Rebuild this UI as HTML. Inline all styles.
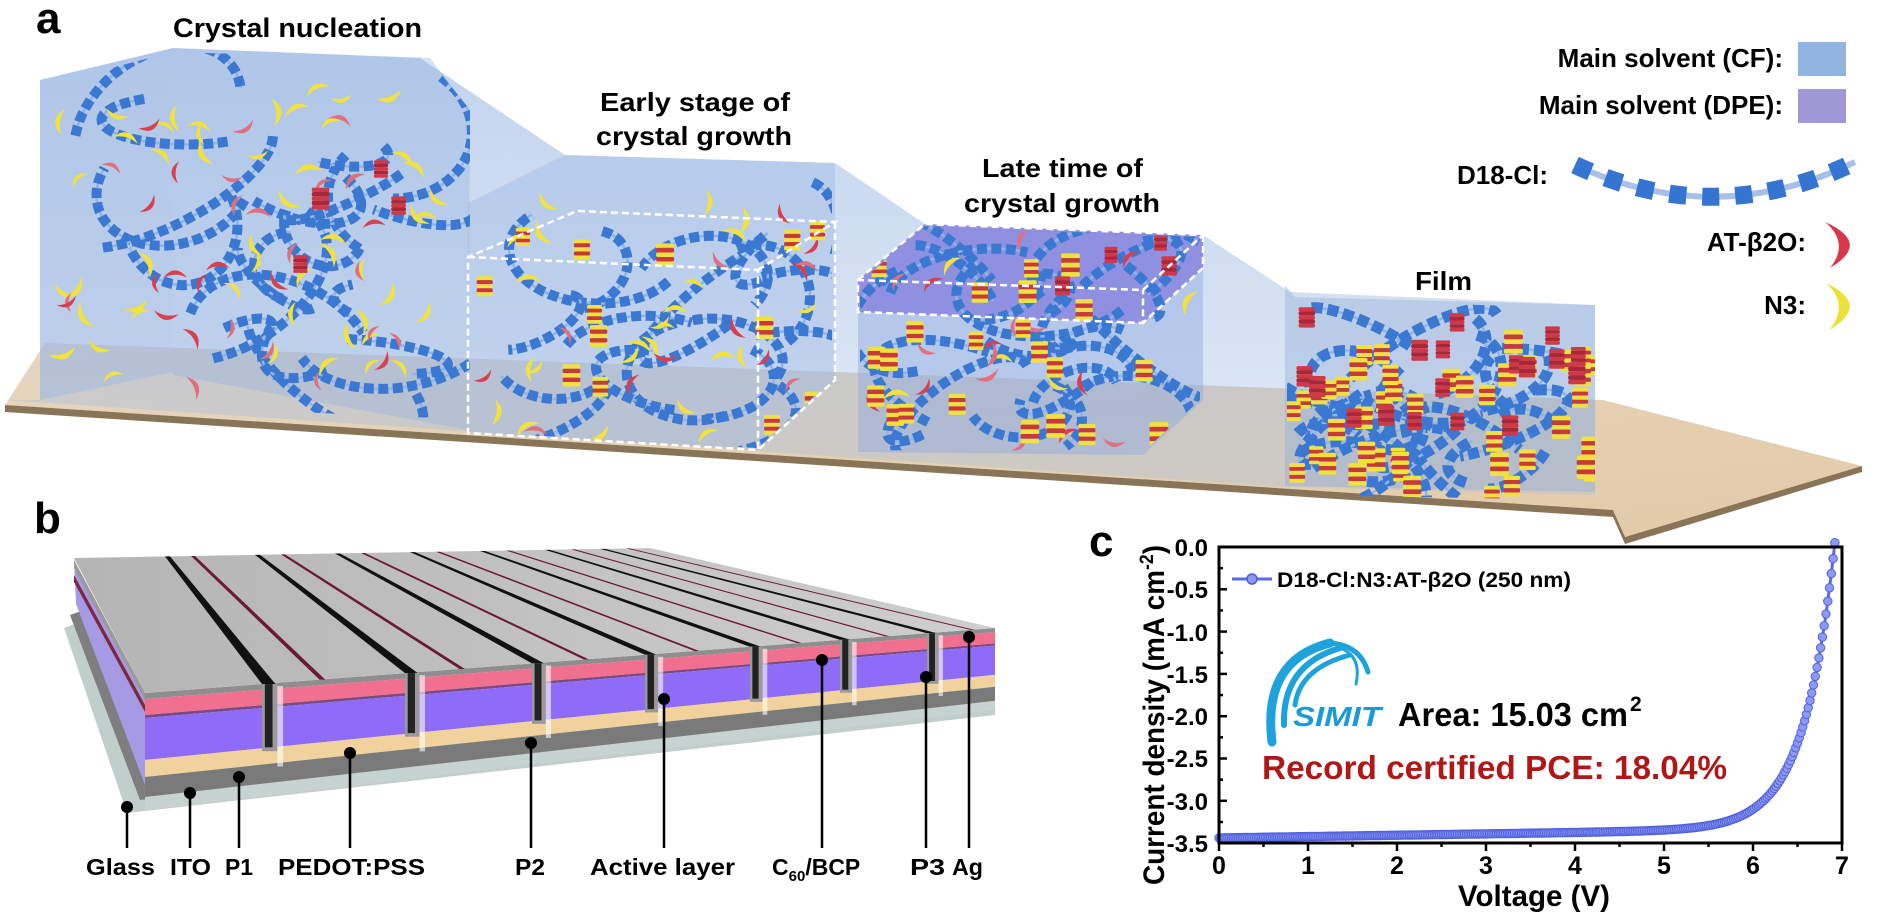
<!DOCTYPE html>
<html><head><meta charset="utf-8">
<style>
html,body{margin:0;padding:0;background:#fff;}
svg{display:block;}
text{font-family:"Liberation Sans",Arial,sans-serif;font-weight:bold;fill:#000;}
</style></head>
<body>
<svg id="s" width="1894" height="913" viewBox="0 0 1894 913" xmlns="http://www.w3.org/2000/svg">
<defs>
<linearGradient id="fl" x1="0" y1="0" x2="1" y2="1"><stop offset="0" stop-color="#e6d6c0"/><stop offset="1" stop-color="#e2cba8"/></linearGradient>
<linearGradient id="topg" x1="0" y1="0" x2="1" y2="0"><stop offset="0" stop-color="#b4b4b4"/><stop offset="1" stop-color="#cfcfcf"/></linearGradient>
<linearGradient id="bw" x1="0" y1="0" x2="0" y2="1"><stop offset="0" stop-color="#8fb0e0" stop-opacity="0.55"/><stop offset="1" stop-color="#a8c0e4" stop-opacity="0.35"/></linearGradient>
<clipPath id="c1"><polygon points="45,85 173,52 430,60 470,110 470,420 45,400"/></clipPath>
<clipPath id="c2"><polygon points="470,205 565,158 832,166 832,380 758,448 470,432"/></clipPath>
<clipPath id="c3"><polygon points="860,282 925,226 1200,237 1200,400 1143,452 860,450"/></clipPath>
<clipPath id="c4"><polygon points="1287,300 1595,308 1595,500 1287,495"/></clipPath>
</defs>

<polygon points="5,405 45,343 1603,400 1862,466 1625,537 1613,510" fill="url(#fl)"/>
<polygon points="5,405 1613,510 1613,517 5,412" fill="#8a7458"/>
<polygon points="1625,537 1862,466 1862,472 1625,544" fill="#8a7458"/>
<polygon points="1613,510 1625,537 1625,544 1613,517" fill="#8a7458"/>

<polygon points="40,80 173,48 420,58 565,155 835,163 925,224 1203,235 1290,292 1595,305 1595,495 1285,487 5,400 40,400" fill="url(#bw)"/>
<polygon points="40,80 173,48 173,372 40,400" fill="#9cb6e0" fill-opacity="0.45"/>
<polygon points="173,48 430,58 470,110 468,430 173,375" fill="#8fb0e0" fill-opacity="0.35"/>
<polygon points="468,203 565,155 835,163 835,380 758,450 468,433" fill="#9ab7e4" fill-opacity="0.4"/>
<polygon points="858,280 925,224 1203,235 1203,400 1143,455 858,452" fill="#8fa8e0" fill-opacity="0.45"/>
<polygon points="858,280 925,224 1203,235 1203,268 1143,323 858,312" fill="#6c5ad8" fill-opacity="0.5"/>
<polygon points="1285,285 1295,297 1595,305 1595,492 1285,486" fill="#90acd8" fill-opacity="0.4"/>

<g id="m1" clip-path="url(#c1)"></g>
<g id="m2" clip-path="url(#c2)"></g>
<g id="m3" clip-path="url(#c3)"></g>
<g id="m4" clip-path="url(#c4)"></g>

<g fill="none" stroke="#fff" stroke-width="2.5" stroke-dasharray="7 4">
<polyline points="468,257 758,270 758,450 468,433 468,257 577,211 835,222 758,270"/>
<polyline points="835,222 835,380 758,450"/>
<polyline points="858,280 925,224 1203,235 1143,290 858,280 858,312 1143,323 1143,290"/>
<polyline points="1203,235 1203,268 1143,323"/>
</g>

<text x="36" y="33" font-size="44">a</text>
<text x="173" y="37" font-size="27" textLength="249" lengthAdjust="spacingAndGlyphs">Crystal nucleation</text>
<text x="600" y="111" font-size="26" textLength="190" lengthAdjust="spacingAndGlyphs">Early stage of</text>
<text x="596" y="145" font-size="26" textLength="196" lengthAdjust="spacingAndGlyphs">crystal growth</text>
<text x="982" y="177" font-size="26" textLength="161" lengthAdjust="spacingAndGlyphs">Late time of</text>
<text x="964" y="212" font-size="26" textLength="196" lengthAdjust="spacingAndGlyphs">crystal growth</text>
<text x="1415" y="290" font-size="26" textLength="57" lengthAdjust="spacingAndGlyphs">Film</text>

<text x="1783" y="67" font-size="26" text-anchor="end">Main solvent (CF):</text>
<rect x="1798" y="42" width="48" height="34" fill="#92b4e3"/>
<text x="1783" y="114" font-size="26" text-anchor="end">Main solvent (DPE):</text>
<rect x="1798" y="89" width="48" height="34" fill="#9f97d6"/>
<text x="1457" y="184" font-size="26">D18-Cl:</text>
<path d="M1575,165 Q1715,230 1855,162" fill="none" stroke="#a8c0e8" stroke-width="6"/>
<path d="M1575,165 Q1715,230 1855,162" fill="none" stroke="#3574d0" stroke-width="18" stroke-dasharray="17 16"/>
<text x="1806" y="251" font-size="26" text-anchor="end">AT-β2O:</text>
<path d="M1825,222 Q1872,243 1830,268 Q1850,243 1825,222Z" fill="#d8384a"/>
<text x="1806" y="314" font-size="26" text-anchor="end">N3:</text>
<path d="M1826,283 Q1872,305 1829,330 Q1850,305 1826,283Z" fill="#ece03a"/>

<text x="34" y="533" font-size="44">b</text>
<g id="dev"></g>
<g stroke="#000" stroke-width="2.5">
<line x1="127" y1="807" x2="127" y2="848"/><line x1="190" y1="793" x2="190" y2="848"/>
<line x1="239" y1="777" x2="239" y2="848"/><line x1="350" y1="753" x2="350" y2="848"/>
<line x1="531" y1="743" x2="531" y2="848"/><line x1="664" y1="699" x2="664" y2="848"/>
<line x1="822" y1="660" x2="822" y2="848"/><line x1="926" y1="677" x2="926" y2="848"/>
<line x1="969" y1="637" x2="969" y2="848"/>
</g>
<g fill="#000">
<circle cx="127" cy="807" r="6"/><circle cx="190" cy="793" r="6"/><circle cx="239" cy="777" r="6"/>
<circle cx="350" cy="753" r="6"/><circle cx="531" cy="743" r="6"/><circle cx="664" cy="699" r="6"/>
<circle cx="822" cy="660" r="6"/><circle cx="926" cy="677" r="6"/><circle cx="969" cy="637" r="6"/>
</g>
<g font-size="23">
<text x="86" y="875" textLength="69" lengthAdjust="spacingAndGlyphs">Glass</text>
<text x="170" y="875" textLength="41" lengthAdjust="spacingAndGlyphs">ITO</text>
<text x="225" y="875" textLength="28" lengthAdjust="spacingAndGlyphs">P1</text>
<text x="278" y="875" textLength="147" lengthAdjust="spacingAndGlyphs">PEDOT:PSS</text>
<text x="515" y="875" textLength="30" lengthAdjust="spacingAndGlyphs">P2</text>
<text x="590" y="875" textLength="145" lengthAdjust="spacingAndGlyphs">Active layer</text>
<text x="772" y="875">C<tspan font-size="15" dy="6">60</tspan><tspan dy="-6">/BCP</tspan></text>
<text x="910" y="875" textLength="35" lengthAdjust="spacingAndGlyphs">P3</text>
<text x="952" y="875" textLength="31" lengthAdjust="spacingAndGlyphs">Ag</text>
</g>

<text x="1089" y="556" font-size="44">c</text>
<g id="curve"></g>
<rect x="1219" y="547" width="623" height="296" fill="none" stroke="#000" stroke-width="3"/>
<g id="ticks" stroke="#000" stroke-width="2.5"></g>
<g font-size="24" text-anchor="end">
<text x="1208" y="556">0.0</text><text x="1208" y="598">-0.5</text><text x="1208" y="641">-1.0</text>
<text x="1208" y="683">-1.5</text><text x="1208" y="725">-2.0</text><text x="1208" y="767">-2.5</text>
<text x="1208" y="810">-3.0</text><text x="1208" y="852">-3.5</text>
</g>
<g font-size="25" text-anchor="middle">
<text x="1219" y="874">0</text><text x="1308" y="874">1</text><text x="1397" y="874">2</text><text x="1486" y="874">3</text>
<text x="1575" y="874">4</text><text x="1664" y="874">5</text><text x="1753" y="874">6</text><text x="1842" y="874">7</text>
</g>
<text x="1534" y="906" font-size="30" text-anchor="middle" textLength="152" lengthAdjust="spacingAndGlyphs">Voltage (V)</text>
<text transform="translate(1164,715) rotate(-90)" font-size="30" text-anchor="middle" textLength="340" lengthAdjust="spacingAndGlyphs">Current density (mA cm<tspan font-size="19" dy="-11">-2</tspan><tspan dy="11">)</tspan></text>
<line x1="1232" y1="579" x2="1272" y2="579" stroke="#5a6ae8" stroke-width="3"/>
<circle cx="1252" cy="579" r="5" fill="#8d9af5" stroke="#4a5ad8" stroke-width="1.5"/>
<text x="1277" y="587" font-size="21" textLength="294" lengthAdjust="spacingAndGlyphs">D18-Cl:N3:AT-β2O (250 nm)</text>
<g fill="none" stroke="#1ea2dc" stroke-linecap="round">
<path d="M1272,742 Q1262,660 1330,643" stroke-width="9"/>
<path d="M1284,725 Q1282,665 1340,648" stroke-width="6"/>
<path d="M1295,705 Q1300,668 1350,655" stroke-width="5"/>
<path d="M1330,643 Q1360,645 1368,672" stroke-width="5"/>
<path d="M1340,648 Q1362,656 1356,684" stroke-width="3"/>
</g>
<text x="1293" y="726" font-size="28" font-style="italic" style="fill:#1a9ad6" textLength="88" lengthAdjust="spacingAndGlyphs">SIMIT</text>
<text x="1398" y="726" font-size="33" textLength="230" lengthAdjust="spacingAndGlyphs">Area: 15.03 cm</text>
<text x="1630" y="711" font-size="21">2</text>
<text x="1262" y="779" font-size="33" style="fill:#b01818" textLength="465" lengthAdjust="spacingAndGlyphs">Record certified PCE: 18.04%</text>
</svg>
<script>
var NS="http://www.w3.org/2000/svg";
function el(p,t,a){var e=document.createElementNS(NS,t);for(var k in a)e.setAttribute(k,a[k]);p.appendChild(e);return e;}
var seed=12345;function R(){seed|=0;seed=seed+0x6D2B79F5|0;var t=Math.imul(seed^seed>>>15,1|seed);t=t+Math.imul(t^t>>>7,61|t)^t;return((t^t>>>14)>>>0)/4294967296;}
function rr(a,b){return a+R()*(b-a);}
var mol;
function chain(x0,x1,y0,y1,w){
 var cx=rr(x0+30,x1-30),cy=rr(y0+30,y1-20),rx=rr(35,(x1-x0)/3.2),ry=rr(15,(y1-y0)/4),rot=rr(-0.7,0.7),a0=rr(0,6.28),len=rr(1.5,3.5);
 var d="";for(var i=0;i<=30;i++){var a=a0+len*i/30;var px=rx*Math.cos(a),py=ry*Math.sin(a);var X=cx+px*Math.cos(rot)-py*Math.sin(rot),Y=cy+px*Math.sin(rot)+py*Math.cos(rot);d+=(i?"L":"M")+X.toFixed(1)+","+Y.toFixed(1);}
 el(mol,'path',{d:d,fill:'none',stroke:'#8fb4ea',"stroke-width":2.5});
 el(mol,'path',{d:d,fill:'none',stroke:'#3a78d2',"stroke-width":w,"stroke-dasharray":(w)+" "+(w*0.45)});
}
function cres(x,y,c,s){el(mol,'path',{d:"M-8,0 Q0,-10 8,0 Q0,-4 -8,0Z",fill:c,transform:"translate("+x.toFixed(1)+","+y.toFixed(1)+") rotate("+rr(0,360).toFixed(0)+") scale("+s.toFixed(2)+")"});}
function stack(x,y,s,red){var g=el(mol,'g',{transform:"translate("+x.toFixed(1)+","+y.toFixed(1)+") scale("+s.toFixed(2)+")"});
 var cols=red?['#d03a48','#a8283a','#d03a48','#a8283a','#d03a48']:['#f0e040','#c83a3a','#f0e040','#c83a3a','#f0e040'];
 for(var i=0;i<5;i++)el(g,'rect',{x:-8,y:-10+i*4,width:16,height:4,fill:cols[i],rx:1.5});}
function box(id,x0,x1,y0,y1,nc,w,ny,nr,ns,nrs){
 mol=document.getElementById(id);
 for(var i=0;i<nc;i++)chain(x0,x1,y0,y1,w);
 for(i=0;i<ny;i++)cres(rr(x0,x1),rr(y0,y1),'#f2e23e',rr(1.3,1.8));
 for(i=0;i<nr;i++)cres(rr(x0,x1),rr(y0,y1),R()<0.5?'#d8404f':'#e07080',rr(1.2,1.6));
 for(i=0;i<ns;i++)stack(rr(x0,x1),rr(y0+30,y1),rr(0.9,1.2),false);
 for(i=0;i<nrs;i++)stack(rr(x0,x1),rr(y0,y1-60),rr(0.8,1.1),true);}
box('m1',60,440,90,390,22,10,50,30,0,4);
box('m2',480,830,200,440,18,10,24,14,14,0);
box('m3',870,1195,235,445,24,10,6,16,22,4);
box('m4',1290,1595,310,500,26,11,0,0,44,18);
var dev=document.getElementById('dev');
var D=[145,693],C=[995,628],A=[74,558],B=[650,548];
function fy(x){return 693+(x-145)*(628-693)/(995-145);}
function sc(x){return 1-0.3*(x-145)/850;}
function by(x){return 558+(x-74)*(548-558)/(650-74);}
el(dev,'polygon',{points:"64,628 80,622 155,800 995,708 995,715 127,813",fill:"#c2cecc"});
el(dev,'polygon',{points:"70,615 84,610 150,785 995,697 995,706 140,800",fill:"#7e7e7e"});
var layers=[[0,6,'#8e8e8e'],[6,22,'#f2708f'],[22,25,'#7a4a80'],[25,67,'#8f6cf7'],[67,84,'#f2d29c'],[84,104,'#7a7a7a'],[104,117,'#c6d3d1']];
el(dev,'polygon',{points:"74,560 145,693 145,785 76,604",fill:"#a79ae4"});
el(dev,'polygon',{points:"74,560 145,693 145,700 74,568",fill:"#9a9a9a"});
el(dev,'polygon',{points:"74,575 145,705 145,712 74,582",fill:"#7a2a40"});
layers.forEach(function(L){var s=0.7;el(dev,'polygon',{points:[145,693+L[0],995,628+s*L[0],995,628+s*L[1],145,693+L[1]].join(' '),fill:L[2]});});
el(dev,'polygon',{points:[A,B,C,D].map(function(p){return p.join(',')}).join(' '),fill:"url(#topg)"});
var fr=[262,405,532,645,750,840,927],bk=[165,255,335,410,480,545,600];
for(var i=0;i<fr.length;i++){var f=fr[i],b=bk[i],s=sc(f),y=fy(f),yb=by(b);
 el(dev,'polygon',{points:[b,yb,b+5,yb,f+14*s,y,f,y].join(' '),fill:"#111"});
 var mb=b+26,mf=f+60*s;if(mf<990)el(dev,'polygon',{points:[mb,by(mb),mb+4,by(mb),mf+6*s,fy(mf),mf,fy(mf)].join(' '),fill:"#6a1a34"});
 el(dev,'rect',{x:f,y:y,width:16*s,height:70*s,fill:"#9a9a9a"});
 el(dev,'rect',{x:f+3*s,y:y,width:8*s,height:66*s,fill:"#222"});
 el(dev,'rect',{x:f+16*s,y:y+2,width:6*s,height:84*s,fill:"#ffffff",opacity:0.6});
}
var cv=document.getElementById('curve');
function J(v){return -3.44+0.016*v+3.38*Math.exp((v-6.92)/0.35);}
function X(v){return 1219+89*v;}function Y(j){return 547-j*84.57;}
var d="";for(var v=0;v<=6.92;v+=0.02){d+=(v?"L":"M")+X(v).toFixed(1)+","+Y(J(v)).toFixed(1);}
el(cv,'path',{d:d,fill:'none',stroke:'#5a6ae8','stroke-width':3});
for(v=0;v<=6.92;v+=0.02){el(cv,'circle',{cx:X(v).toFixed(1),cy:Y(J(v)).toFixed(1),r:4.2,fill:'#8d9af5',stroke:'#5060dc','stroke-width':1});}
var tk=document.getElementById('ticks');
for(var k=0;k<=7;k++){el(tk,'line',{x1:X(k),y1:843,x2:X(k),y2:851});if(k<7)el(tk,'line',{x1:X(k+0.5),y1:843,x2:X(k+0.5),y2:847});}
for(k=0;k<=7;k++){var yy=547+k*42.3;el(tk,'line',{x1:1219,y1:yy,x2:1227,y2:yy});if(k<7)el(tk,'line',{x1:1219,y1:yy+21.15,x2:1223,y2:yy+21.15});}
</script>
</body></html>
